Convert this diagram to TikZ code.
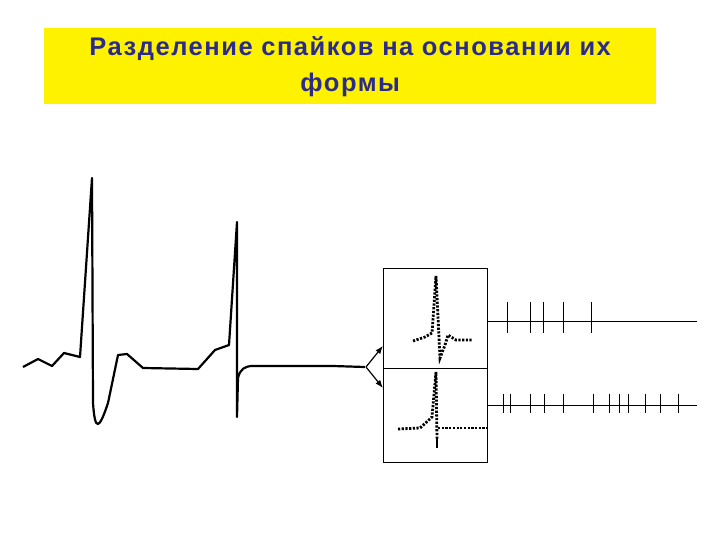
\documentclass[tikz,border=0pt]{standalone}
\usepackage{fontspec}
\setmainfont{Liberation Sans}
\usetikzlibrary{arrows.meta}
\definecolor{titleblue}{HTML}{2B2B8E}
\begin{document}
\begin{tikzpicture}[x=1pt,y=-1pt,
  wave/.style={line width=2.2pt,line join=round},
  dots/.style={line width=2.8pt,dash pattern=on 2.2pt off 1.5pt},
  tick/.style={line width=1pt},
  box/.style={draw,line width=0.9pt}]
\useasboundingbox (0,0) rectangle (720,540);
\node[fill=yellow,minimum width=612pt,minimum height=76pt,anchor=north west,inner sep=0pt,
  align=center,text=titleblue,font=\addfontfeatures{LetterSpace=6}\bfseries\fontsize{25.5}{36}\selectfont] (title) at (44,28)
  {\raisebox{-2pt}{Разделение спайков на основании их}\\\raisebox{-2pt}{формы}};
\draw[wave] (23,367)--(38,359)--(52,366)--(64,353)--(80,357)--(92,178)--(93,403)
  .. controls (95,432) and (99,430) .. (108,403)--(118,355)--(127,354)--(143,368)--(198,369)
  --(215,350)--(229,345)--(237,222)--(237,417)--(238,378)
  .. controls (240,369) and (245,366) .. (253,366)--(333,366)--(365,367);
\coordinate (src) at (366,367);
\node[box,minimum width=104pt,minimum height=100pt,anchor=north west,inner sep=0pt] (b1) at (383,268) {};
\node[box,minimum width=104pt,minimum height=94pt,anchor=north west,inner sep=0pt] (b2) at (383,368) {};
\draw[-{Latex[length=8pt,width=6pt]},line width=1.2pt] (src) -- ([yshift=23pt]b1.south west);
\draw[-{Latex[length=8pt,width=6pt]},line width=1.2pt] (src) -- ([yshift=-20pt]b2.north west);
\draw[dots] (413,341)--(425,337)--(432,333)--(436,276)--(440,358)--(445,345)--(448,335)--(456,340)--(472,340);
\draw[dots] (398,429)--(420,428)--(432,417)--(436,372)--(437,440);
\draw[dots] (438,428)--(488,428);
\draw[line width=2.4pt] (437,437)--(437,448);
\draw[tick] (487,321)--(697,321);
\foreach \x in {507,530,543,563,591} \draw[tick] (\x,302)--(\x,333);
\draw[tick] (487,405)--(697,405);
\foreach \x in {503,510,530,544,563,593,609,619,628,645,660,678} \draw[tick] (\x,394)--(\x,413);
\end{tikzpicture}
\end{document}
